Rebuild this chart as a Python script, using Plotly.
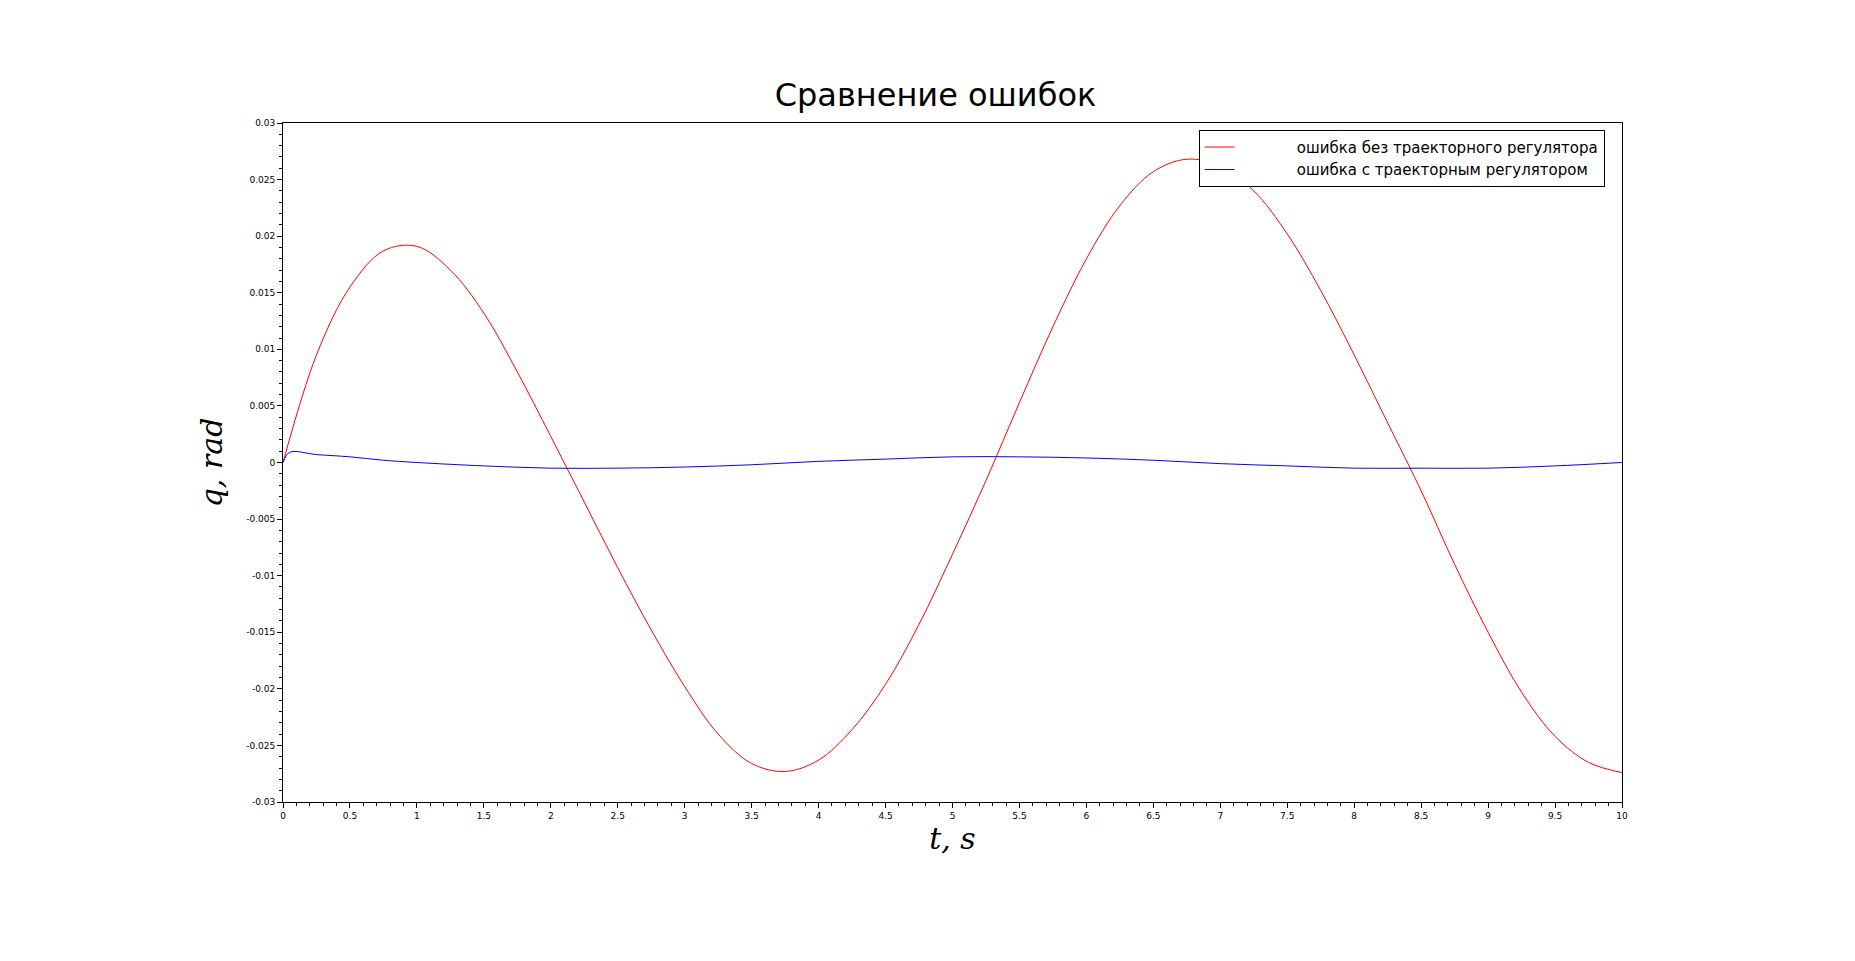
import plotly.graph_objects as go

t_red = [0,0.25,0.5,0.75,1.0,1.25,1.5,1.75,2.0,2.25,2.5,2.75,3.0,3.25,3.5,3.75,4.0,4.25,4.5,4.75,5.0,5.25,5.5,5.75,6.0,6.25,6.5,6.75,7.0,7.25,7.5,7.75,8.0,8.25,8.5,8.75,9.0,9.25,9.5,9.75,10]
e_red = [0,0.0095,0.0155,0.0187,0.0191,0.0170,0.0132,0.0080,0.0023,-0.0035,-0.0093,-0.0148,-0.0198,-0.0240,-0.0266,-0.0273,-0.0263,-0.0236,-0.0196,-0.0143,-0.0081,-0.0016,0.0053,0.0120,0.0180,0.0227,0.0257,0.0268,0.0262,0.0240,0.0202,0.0152,0.0095,0.0035,-0.0025,-0.0090,-0.0150,-0.0203,-0.0242,-0.0265,-0.0274]
t_blue = [0,0.05,0.25,0.5,0.75,1.0,1.5,2.0,2.5,3.0,3.5,4.0,4.5,5.0,5.5,6.0,6.5,7.0,7.5,8.0,8.5,9.0,9.5,10]
e_blue = [0,0.0009,0.0007,0.0005,0.0002,0.0,-0.0003,-0.0005,-0.0005,-0.0004,-0.0002,0.0001,0.0003,0.0005,0.0005,0.0004,0.0002,-0.0001,-0.0003,-0.0005,-0.0005,-0.0005,-0.0003,0.0]

x_ticks = [i*0.5 for i in range(21)]
x_labels = ["0","0.5","1","1.5","2","2.5","3","3.5","4","4.5","5","5.5","6","6.5","7","7.5","8","8.5","9","9.5","10"]
y_ticks = [-0.03,-0.025,-0.02,-0.015,-0.01,-0.005,0,0.005,0.01,0.015,0.02,0.025,0.03]
y_labels = ["-0.03","-0.025","-0.02","-0.015","-0.01","-0.005","0","0.005","0.01","0.015","0.02","0.025","0.03"]

pad = "\u00a0" * 12
fig = go.Figure()
fig.add_trace(go.Scatter(x=t_red, y=e_red, mode="lines", line=dict(color="red", width=1, shape="spline"),
                         name=pad + "ошибка без траекторного регулятора"))
fig.add_trace(go.Scatter(x=t_blue, y=e_blue, mode="lines", line=dict(color="blue", width=1, shape="spline"),
                         name=pad + "ошибка с траекторным регулятором"))

ax = dict(showgrid=False, zeroline=False, showline=True, linecolor="black", linewidth=1, mirror=True,
          ticks="outside", ticklen=5, tickcolor="black", tickfont=dict(size=9, family="DejaVu Sans", color="black"))
fig.update_xaxes(**ax, range=[0, 10], tickvals=x_ticks, ticktext=x_labels,
                 minor=dict(ticks="outside", ticklen=3, dtick=0.1, tickcolor="black"),
                 title=dict(text="<i>t, s</i>", font=dict(family="DejaVu Serif", size=30, color="black"), standoff=8))
fig.update_yaxes(**ax, range=[-0.03, 0.03], tickvals=y_ticks, ticktext=y_labels,
                 minor=dict(ticks="outside", ticklen=3, dtick=0.001, tickcolor="black"),
                 title=dict(text="<i>q, rad</i>", font=dict(family="DejaVu Serif", size=30, color="black"), standoff=14))

fig.update_layout(
    width=1855, height=961, plot_bgcolor="white", paper_bgcolor="white",
    margin=dict(l=275, r=241, t=115, b=167),
    title=dict(text="Сравнение ошибок", x=0.5, xanchor="center", y=0.91, yanchor="middle",
               font=dict(family="DejaVu Sans", size=32, color="black")),
    legend=dict(x=0.987, y=0.99, xanchor="right", yanchor="top", bordercolor="black", borderwidth=1,
                bgcolor="white", font=dict(family="DejaVu Sans", size=15, color="black"),
                tracegroupgap=0),
    showlegend=True,
)
fig.write_html("out.html")
